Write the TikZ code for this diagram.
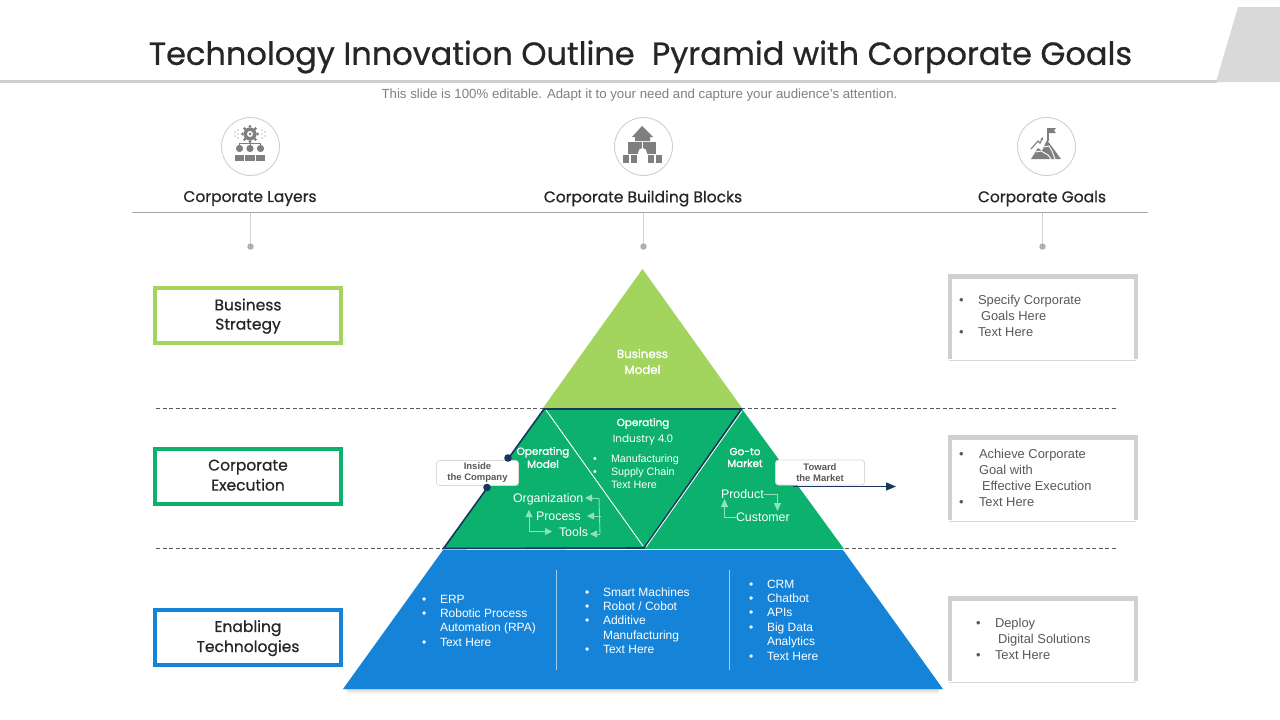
\documentclass[tikz,border=0pt]{standalone}
\usepackage{fontspec}
\setmainfont{Liberation Sans}
\newfontfamily\headf[FakeBold=0.7]{Poppins}
\newfontfamily\boldf[FakeBold=1.4]{Poppins}
\newfontfamily\plainf{Poppins}
\usetikzlibrary{arrows.meta,calc}
\definecolor{lime}{HTML}{A2D45E}
\definecolor{emer}{HTML}{0CB16E}
\definecolor{azure}{HTML}{1584D8}
\definecolor{navy}{HTML}{17375E}
\definecolor{ink}{HTML}{262626}
\definecolor{soft}{HTML}{595959}
\definecolor{rulegray}{HTML}{D0D0D0}
\definecolor{icongray}{HTML}{7F7F7F}
\definecolor{mint}{HTML}{8FE0BC}
\newcommand{\fs}[1]{\fontsize{#1}{#1}\selectfont}
\newcommand{\twolines}[2]{\raisebox{-4.5pt}[12pt][12pt]{\begin{tabular}{@{}c@{}}#1\\[3.6pt]#2\end{tabular}}}
\tikzset{
 x=1pt,y=-1pt,
 txt/.style={inner sep=0pt,outer sep=0pt,align=left,anchor=west,text height=11.5pt,text depth=3pt},
 head/.style={inner sep=0pt,font=\headf\fs{15.5},text=ink,anchor=center},
 layerbox/.style={draw,line width=3.5pt,fill=white,minimum width=186pt,minimum height=55pt,inner sep=0pt,align=center,font=\headf\fs{15.5},text=ink},
 pinline/.style={draw=rulegray,line width=1pt},
 pindot/.style={circle,fill=rulegray!85!black,minimum size=6.5pt,inner sep=0pt},
 iconring/.style={circle,draw=rulegray,line width=.9pt,minimum size=58pt,inner sep=0pt,fill=white},
 dashsep/.style={draw=black!65,line width=.9pt,dash pattern=on 4pt off 2.5pt},
 wt/.style={txt,text=white,font=\fs{12.4}},
 wb/.style={inner sep=0pt,align=center,text=white,font=\boldf\fs{11.8},anchor=center},
 gt/.style={txt,text=soft,font=\fs{12.9}},
 tag/.style={draw=black!15,fill=white,rounded corners=3pt,line width=.8pt,inner sep=0pt,align=center,font=\fs{9.5}\bfseries,text=soft},
 flow/.style={draw=mint,line width=.9pt,-{Triangle[length=7pt,width=7pt]}},
}
\newcommand{\goalbox}[2]{%
 \fill[white] (948,#1) rectangle (1137,#2);
 \draw[black!15,line width=1pt] (949,#2) -- (1136,#2);
 \fill[rulegray] (948,#1) rectangle (1138,#1+5);
 \fill[rulegray] (948,#1) rectangle (952,#2-1);
 \fill[rulegray] (1134,#1) rectangle (1138,#2-1);
}
\begin{document}
\begin{tikzpicture}
\useasboundingbox (0,0) rectangle (1280,720);
\fill[white] (0,0) rectangle (1280,720);
% title band
\fill[rulegray] (0,80) rectangle (1217,82.5);
\fill[black!15] (1216,82) -- (1238,7) -- (1280,7) -- (1280,82) -- cycle;
\node[inner sep=0pt,font=\headf\fs{32},text=ink] (title) at (640.5,57) {Technology Innovation Outline\ \ Pyramid with Corporate Goals};
\node[inner sep=0pt,font=\fs{13.25},text=black!50] (sub) at (639.5,95) {This slide is 100\% editable. Adapt it to your need and capture your audience's attention.};
% icon rings
\node[iconring] (r1) at (250.5,146.5) {};
\node[iconring] (r2) at (643.5,146.5) {};
\node[iconring] (r3) at (1046.5,146.5) {};
% icon 1: gear + people
\begin{scope}[shift={(250,146)}]
 \fill[icongray] (0,-12) circle (6.5);
 \foreach \a in {0,45,...,315}{\fill[icongray] ($(0,-12)+(\a:7.5)$) circle (1.7);}
 \fill[white] (0,-12) circle (3);
 \fill[icongray] (0,-12) circle (1.5);
 \draw[icongray,line width=1pt] (0,-5) -- (0,2) (0,-3) -- (-10.5,-3) -- (-10.5,2) (0,-3) -- (10.5,-3) -- (10.5,2);
 \foreach \x in {-10.5,0,10.5}{
  \fill[icongray] (\x,2.5) circle (3.6);
  \fill[icongray] (\x-4.7,15) -- (\x-4.7,8.5) -- (\x+4.7,8.5) -- (\x+4.7,15) -- cycle;
 }
 \foreach \x/\y in {-12/-16,-12/-12,-12/-8,-15/-14,-15/-10,12/-16,12/-12,12/-8,15/-14,15/-10}{\fill[icongray] (\x,\y) circle (.7);}
\end{scope}
% icon 2: castle
\begin{scope}[shift={(643,146)}]
 \fill[icongray] (-1,-20) -- (10,-9) -- (7,-9) -- (7,-5) -- (-8,-5) -- (-8,-9) -- (-11,-9) -- cycle;
 \fill[icongray] (-15,-4) rectangle (-1,8);
 \fill[icongray] (0,-4) rectangle (13,8);
 \fill[icongray] (-20,8.5) rectangle (-14,17);
 \fill[icongray] (-12,8.5) rectangle (-6,17);
 \fill[icongray] (5,8.5) rectangle (11,17);
 \fill[icongray] (13,8.5) rectangle (19,17);
 \fill[white] (-5,17) -- (-5,7) arc[start angle=180,end angle=0,x radius=4.5,y radius=-5] -- (4,17) -- cycle;
\end{scope}
% icon 3: mountain
\begin{scope}[shift={(1046,146)}]
 \fill[icongray] (-15,13) -- (-8,2) -- (-4,5) -- (1,-6) -- (15,13) -- cycle;
 \draw[white,line width=.9pt] (-10,6) -- (-5,5) -- (2,9) -- (5,13) (-2,1) -- (3,0) -- (6,5) -- (9,13);
 \draw[icongray,line width=1.1pt] (2,-5) -- (2,-18);
 \fill[icongray] (2,-18) -- (10,-18) -- (8,-15.5) -- (10,-13) -- (2,-13) -- cycle;
 \draw[icongray,line width=1.1pt,-{Latex[length=3pt,width=3pt]}] (-15,3) -- (-8,-5) -- (-6,-3) -- (-3,-9);
\end{scope}
% headers
\node[head] (h1) at (250,198.5) {Corporate Layers};
\node[head] (h2) at (643,198.5) {Corporate Building Blocks};
\node[head] (h3) at (1042,198.5) {Corporate Goals};
\coordinate (ruleL) at (132,212.5); \coordinate (ruleR) at (1148,212.5);
\draw[draw=black!35,line width=.8pt] (ruleL) -- (ruleR);
\foreach \n/\x in {p1/250.5,p2/643.5,p3/1042.5}{
 \node[pindot] (\n) at (\x,246.5) {};
 \coordinate (\n t) at (\x,213);
 \draw[pinline] (\n t) -- (\n);
}
% dashed separators
\draw[dashsep] (156,408) -- (1117,408);
\draw[dashsep] (156,548.5) -- (1117,548.5);
% pyramid
\fill[lime] (642.5,269) -- (742,408) -- (543,408) -- cycle;
\fill[emer] (544,409) -- (742,409) -- (844,549) -- (443,549) -- cycle;
\foreach \d in {1,...,5}{
 \fill[black,opacity=.03] (343+\d,689) -- (943-\d,689) -- (943-\d,689+\d) -- (343+\d,689+\d) -- cycle;
}
\fill[azure] (443,550) -- (843,550) -- (943,689) -- (343,689) -- cycle;
\draw[white,line width=.9pt] (443,549.3) -- (844,549.3);
% navy outlines
\draw[navy,line width=1.6pt] (443.5,548.5) -- (544,409) -- (741.5,409) -- (644,548) -- cycle;
\draw[white,line width=.9pt] (546,410) -- (643,546);
\draw[white,line width=.8pt] (742,411) -- (646,547);
% pyramid text
\node[wb] (bm) at (642.5,361.5) {Business\\[4pt]Model};
\node[wb,font=\boldf\fs{10.4}] (op) at (643,423.5) {Operating};
\node[inner sep=0pt,text=white,font=\plainf\fs{10.5}] (ind) at (643,440) {Industry 4.0};
\node[txt,text=white,font=\fs{10.7}] at (593,458) {•};
\node[txt,text=white,font=\fs{10.7}] at (593,471) {•};
\node[txt,text=white,font=\fs{10.7}] at (611,458) {Manufacturing};
\node[txt,text=white,font=\fs{10.7}] at (611,471) {Supply Chain};
\node[txt,text=white,font=\fs{10.7}] at (611,484) {Text Here};
\node[wb,font=\boldf\fs{10.4}] (om) at (543,457.5) {Operating\\[1.5pt]Model};
\node[wb,font=\boldf\fs{10.4}] (gm) at (745,457.5) {Go-to\\[1.5pt]Market};
\node[wt] (org) at (513,498) {Organization};
\node[wt] (proc) at (536,516) {Process};
\node[wt] (tools) at (559,532) {Tools};
\node[wt] (prod) at (721,494) {Product};
\node[wt] (cust) at (736,517) {Customer};
% flow arrows left
\coordinate (fa) at (599,498); \coordinate (fb) at (601,516); \coordinate (fc) at (600,534);
\draw[flow] (fa) -- (585,498);
\draw[flow] (fb) -- (587,516);
\draw[flow] (fc) -- (590,534);
\draw[draw=mint,line width=.9pt] (fa) -- (fc);
\coordinate (fd) at (529,531.5);
\draw[flow] (fd) -- (529,510);
\draw[flow] (fd) -- (552,531.5);
% flow arrows right
\coordinate (g1) at (777.5,494); \coordinate (g2) at (724.5,517);
\draw[draw=mint,line width=.9pt,-{Triangle[length=8pt,width=7pt]}] (prod.east) -- (g1) -- (777.5,511);
\draw[draw=mint,line width=.9pt,-{Triangle[length=8pt,width=7pt]}] (cust.west) -- (g2) -- (724.5,499);
% callouts
\node[tag,minimum width=82pt,minimum height=25pt] (inside) at (477.5,473) {Inside\\[1.5pt]the Company};
\fill[navy] (508,458) circle (3.8);
\fill[navy] (487,487.5) circle (3.8);
\coordinate (arrowEnd) at (896,486.5);
\draw[navy,line width=1.1pt,-{Triangle[length=10pt,width=8pt]}] (793,486.5) -- (arrowEnd);
\node[tag,minimum width=89pt,minimum height=25pt] (toward) at (820,472.5) {Toward\\[1.5pt]the Market};
% blue text
\foreach \x/\y/\t in {
 440/599/ERP,440/613/Robotic Process,440/627/Automation (RPA),440/642/Text Here,
 603/592/Smart Machines,603/606/{Robot / Cobot},603/620/Additive,603/635/Manufacturing,603/649/Text Here,
 767/584/CRM,767/598/Chatbot,767/612/APIs,767/627/Big Data,767/641/Analytics,767/656/Text Here}{
 \node[wt,font=\fs{12}] at (\x,\y) {\t};
}
\foreach \x/\y in {422/599,422/613,422/642,585/592,585/606,585/620,585/649,749/584,749/598,749/612,749/627,749/656}{
 \node[wt,font=\fs{12}] at (\x,\y) {•};
}
\draw[white!60!azure,line width=.8pt] (556.5,570) -- (556.5,670);
\draw[white!60!azure,line width=.8pt] (729.5,570) -- (729.5,670);
% layer boxes
\node[layerbox,draw=lime] (b1) at (248,315.5) {\twolines{Business}{Strategy}};
\node[layerbox,draw=emer] (b2) at (248,476.5) {\twolines{Corporate}{Execution}};
\node[layerbox,draw=azure] (b3) at (248,637.5) {\twolines{Enabling}{Technologies}};
% goals
\goalbox{274}{360}
\goalbox{435}{521}
\goalbox{596}{682}
\node[gt] at (959,300.5) {•};
\node[gt] at (978,300.5) {Specify Corporate};
\node[gt] at (981,316.5) {Goals Here};
\node[gt] at (959,332.5) {•};
\node[gt] at (978,332.5) {Text Here};
\node[gt] at (959,454.5) {•};
\node[gt] at (979,454.5) {Achieve Corporate};
\node[gt] at (979,470.5) {Goal with};
\node[gt] at (982,486.5) {Effective Execution};
\node[gt] at (959,502.5) {•};
\node[gt] at (979,502.5) {Text Here};
\node[gt] at (976,623.5) {•};
\node[gt] at (995,623.5) {Deploy};
\node[gt] at (998,639.5) {Digital Solutions};
\node[gt] at (976,655.5) {•};
\node[gt] at (995,655.5) {Text Here};
\end{tikzpicture}
\end{document}
